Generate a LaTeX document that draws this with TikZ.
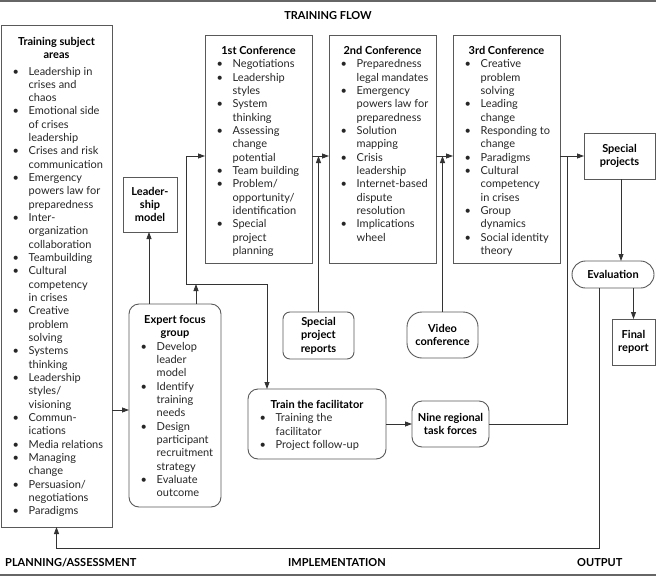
\documentclass[tikz,border=0pt]{standalone}
\usepackage{fontspec}
\setmainfont{Lato}
\usetikzlibrary{arrows.meta,calc}
\newcommand{\blist}[1]{\begin{tabular}[t]{@{}p{16pt}@{}l@{}}#1\end{tabular}}
\newcommand{\ctitle}[1]{\begin{tabular}[t]{@{}c@{}}#1\end{tabular}}
\newcommand{\bu}{\textbullet}
\tikzset{
  box/.style={draw=black!65, line width=0.9pt, inner sep=0pt, outer sep=0pt, align=center,
    font=\fontsize{11}{13.33}\selectfont\bfseries},
  rbox/.style={box, rounded corners=10pt},
  ttl/.style={font=\fontsize{11}{13.33}\selectfont\bfseries, inner sep=0pt, anchor=base},
  lst/.style={font=\fontsize{11}{13.33}\selectfont, text=black!85, inner sep=0pt, anchor=base west},
  conn/.style={draw=black!80, line width=0.8pt},
  arr/.style={conn, -{Triangle[length=7pt,width=5pt]}},
  lbl/.style={font=\fontsize{11}{13}\selectfont\bfseries, inner sep=0pt},
  pageline/.style={draw=black!60, line width=1.5pt}
}
\begin{document}
\begin{tikzpicture}[x=1pt,y=-1pt]
\useasboundingbox (0,0) rectangle (656,576);
\draw[pageline] (0,1) -- (656,1);
\draw[pageline] (0,575) -- (656,575);

% labels
\node[lbl, anchor=base] (tflow) at (328,19) {TRAINING FLOW};
\node[lbl, anchor=base west] (plan) at (5,566) {PLANNING/ASSESSMENT};
\node[lbl, anchor=base] (impl) at (337,566) {IMPLEMENTATION};
\node[lbl, anchor=base west] (outp) at (577,566) {OUTPUT};

% boxes
\node[box, minimum width=111pt, minimum height=502pt] (tsa) at (56.5,276) {};
\node[box, minimum width=54pt, minimum height=55pt] (lm) at (150,204.5) {Leader-\\ship\\model};
\node[box, minimum width=107pt, minimum height=228pt] (c1) at (258.5,149) {};
\node[box, minimum width=107pt, minimum height=228pt] (c2) at (382.5,149) {};
\node[box, minimum width=107pt, minimum height=228pt] (c3) at (506.5,149) {};
\node[box, minimum width=71pt, minimum height=46pt] (sp) at (619.5,156) {Special\\projects};
\node[box, rounded corners=13.5pt, minimum width=82pt, minimum height=27pt] (ev) at (613,274.5) {Evaluation};
\node[box, minimum width=43pt, minimum height=46pt] (fr) at (633.5,342) {Final\\report};
\node[rbox, minimum width=92pt, minimum height=203pt] (efg) at (175,405.5) {};
\node[box, rounded corners=7pt, minimum width=71pt, minimum height=47pt] (spr) at (318.5,335.5) {Special\\project\\reports};
\node[box, rounded corners=15pt, minimum width=71pt, minimum height=46pt] (vc) at (442.5,335) {Video\\conference};
\node[rbox, minimum width=138pt, minimum height=70pt] (tf) at (317,424) {};
\node[rbox, minimum width=77pt, minimum height=46pt] (nrt) at (450.5,424) {Nine regional\\task forces};

% texts of list boxes
\node[ttl] (tsa-t) at (56.5,45) {\ctitle{Training subject\\areas}};
\node[lst] (tsa-l) at (12.5,75) {\blist{%
\bu & Leadership in\\ & crises and\\ & chaos\\
\bu & Emotional side\\ & of crises\\ & leadership\\
\bu & Crises and risk\\ & communication\\
\bu & Emergency\\ & powers law for\\ & preparedness\\
\bu & Inter-\\ & organization\\ & collaboration\\
\bu & Teambuilding\\
\bu & Cultural\\ & competency\\ & in crises\\
\bu & Creative\\ & problem\\ & solving\\
\bu & Systems\\ & thinking\\
\bu & Leadership\\ & styles/\\ & visioning\\
\bu & Commun-\\ & ications\\
\bu & Media relations\\
\bu & Managing\\ & change\\
\bu & Persuasion/\\ & negotiations\\
\bu & Paradigms}};

\node[ttl] (c1-t) at (258.5,54.5) {1st Conference};
\node[lst] (c1-l) at (216.5,67.8) {\blist{%
\bu & Negotiations\\
\bu & Leadership\\ & styles\\
\bu & System\\ & thinking\\
\bu & Assessing\\ & change\\ & potential\\
\bu & Team building\\
\bu & Problem/\\ & opportunity/\\ & identification\\
\bu & Special\\ & project\\ & planning}};

\node[ttl] (c2-t) at (382.5,54.5) {2nd Conference};
\node[lst] (c2-l) at (340.5,67.8) {\blist{%
\bu & Preparedness\\ & legal mandates\\
\bu & Emergency\\ & powers law for\\ & preparedness\\
\bu & Solution\\ & mapping\\
\bu & Crisis\\ & leadership\\
\bu & Internet-based\\ & dispute\\ & resolution\\
\bu & Implications\\ & wheel}};

\node[ttl] (c3-t) at (506.5,54.5) {3rd Conference};
\node[lst] (c3-l) at (464.5,67.8) {\blist{%
\bu & Creative\\ & problem\\ & solving\\
\bu & Leading\\ & change\\
\bu & Responding to\\ & change\\
\bu & Paradigms\\
\bu & Cultural\\ & competency\\ & in crises\\
\bu & Group\\ & dynamics\\
\bu & Social identity\\ & theory}};

\node[ttl] (efg-t) at (175,323.5) {\ctitle{Expert focus\\group}};
\node[lst] (efg-l) at (140.5,350.2) {\blist{%
\bu & Develop\\ & leader\\ & model\\
\bu & Identify\\ & training\\ & needs\\
\bu & Design\\ & participant\\ & recruitment\\ & strategy\\
\bu & Evaluate\\ & outcome}};

\node[ttl] (tf-t) at (317,408.5) {Train the facilitator};
\node[lst] (tf-l) at (259.5,421.8) {\blist{%
\bu & Training the\\ & facilitator\\
\bu & Project follow-up}};

% helper coordinates
\coordinate (ylink) at (0,156);
\coordinate (yfb) at (0,548);
\coordinate (j1) at (196,284);
\coordinate (j1L) at (186,284);
\coordinate (x267) at (267,0);
\coordinate (x149) at (149,0);
\coordinate (x567) at (567,0);
\coordinate (x599) at (599,0);
\coordinate (x621) at (621,0);
\coordinate (y410) at (0,410);

% connectors
\draw[arr] (tsa.east |- y410) -- (efg.west |- y410);
\draw[arr] (efg.north -| x149) -- (lm.south -| x149);
\draw[arr] (efg.north -| j1) -- (j1);
\draw[arr] (j1) -- (j1L) |- (c1.west |- ylink);
\draw[arr] (j1) -| (tf.north -| x267);
\draw[arr] (c1.east |- ylink) -- (c2.west |- ylink);
\draw[arr] (spr.north) -- (spr.north |- ylink);
\draw[arr] (c2.east |- ylink) -- (c3.west |- ylink);
\draw[arr] (vc.north) -- (vc.north |- ylink);
\draw[arr] (c3.east |- ylink) -- (sp.west |- ylink);
\draw[conn] (nrt.east) -| (x567 |- ylink);
\draw[arr] (tf.east) -- (nrt.west);
\draw[arr] (sp.south -| x621) -- (ev.north -| x621);
\draw[arr] (ev.south -| fr.north) -- (fr.north);
\draw[arr] (ev.south -| x599) |- (yfb -| tsa.south) -- (tsa.south);
\end{tikzpicture}
\end{document}
